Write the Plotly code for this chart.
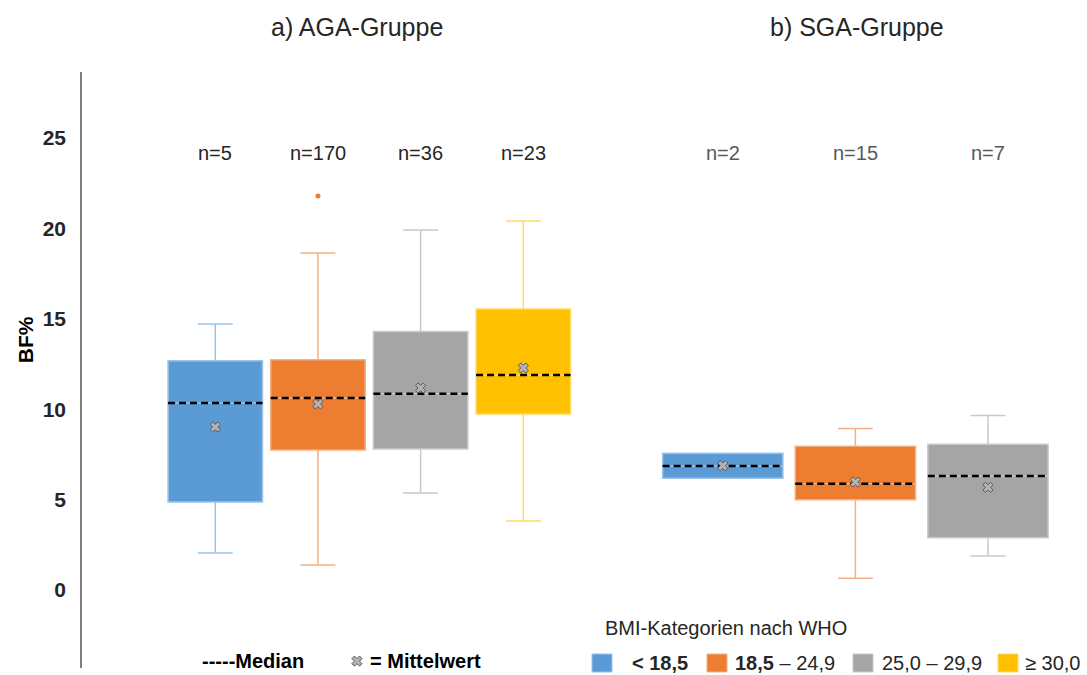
import plotly.graph_objects as go

# ---------------- data ----------------
categories = ["< 18,5", "18,5 – 24,9", "25,0 – 29,9", "≥ 30,0"]

aga_n = [5, 170, 36, 23]
aga_q1 = [4.87, 7.74, 7.80, 9.73]
aga_median = [10.34, 10.62, 10.86, 11.89]
aga_q3 = [12.68, 12.74, 14.30, 15.55]
aga_mean = [9.02, 10.29, 11.17, 12.28]
aga_low = [2.05, 1.38, 5.37, 3.82]
aga_high = [14.71, 18.64, 19.91, 20.41]
aga_outlier_cat = [1]
aga_outlier_val = [21.79]

sga_n = [2, 15, 7]
sga_q1 = [6.18, 5.00, 2.89]
sga_median = [6.86, 5.88, 6.31]
sga_q3 = [7.56, 7.95, 8.06]
sga_mean = [6.88, 5.97, 5.68]
sga_low = [6.18, 0.65, 1.88]
sga_high = [7.56, 8.94, 9.66]

fill_colors = ["#5B9BD5", "#ED7D31", "#A5A5A5", "#FFC000"]
line_colors = ["#9DC3E6", "#F4B183", "#C9C9C9", "#FFD966"]

FONT = "Liberation Sans, Arial, sans-serif"
DARK = "#262626"

fig = go.Figure()

def add_group(xa, q1, med, q3, lo, hi, mean, width, ww):
    for i in range(len(q1)):
        fig.add_trace(go.Box(
            x=[i], q1=[q1[i]], median=[med[i]], q3=[q3[i]],
            lowerfence=[lo[i]], upperfence=[hi[i]],
            width=width, whiskerwidth=ww,
            fillcolor=fill_colors[i],
            line=dict(color=line_colors[i], width=1.5),
            boxpoints=False, orientation="v",
            xaxis=xa, yaxis="y", showlegend=False, hoverinfo="skip",
        ))
    # dashed median lines
    mx, my = [], []
    for i in range(len(med)):
        mx += [i - width / 2, i + width / 2, None]
        my += [med[i], med[i], None]
    fig.add_trace(go.Scatter(
        x=mx, y=my, mode="lines", xaxis=xa, yaxis="y",
        line=dict(color="#000000", width=2.5, dash="7px,4px"),
        showlegend=False, hoverinfo="skip",
    ))
    # mean markers
    fig.add_trace(go.Scatter(
        x=list(range(len(mean))), y=mean, mode="markers", xaxis=xa, yaxis="y",
        marker=dict(symbol="x", size=9, color="#B4B4B4",
                    line=dict(color="#595959", width=1)),
        showlegend=False, hoverinfo="skip",
    ))

add_group("x", aga_q1, aga_median, aga_q3, aga_low, aga_high, aga_mean, 0.92, 0.37)
add_group("x2", sga_q1, sga_median, sga_q3, sga_low, sga_high, sga_mean, 0.907, 0.29)

# outlier
fig.add_trace(go.Scatter(
    x=aga_outlier_cat, y=aga_outlier_val, mode="markers", xaxis="x", yaxis="y",
    marker=dict(size=5, color=fill_colors[1]), showlegend=False, hoverinfo="skip",
))

# legend glyph for mean ("= Mittelwert")
fig.add_trace(go.Scatter(
    x=[1.38], y=[-3.93], mode="markers", xaxis="x", yaxis="y", cliponaxis=False,
    marker=dict(symbol="x", size=9, color="#B4B4B4",
                line=dict(color="#595959", width=1)),
    showlegend=False, hoverinfo="skip",
))

annotations = []
# n labels
for i, n in enumerate(aga_n):
    annotations.append(dict(x=i, y=24.17, xref="x", yref="y", text=f"n={n}",
                            xanchor="center", showarrow=False,
                            font=dict(size=20, color=DARK, family=FONT)))
for i, n in enumerate(sga_n):
    annotations.append(dict(x=i, y=24.17, xref="x2", yref="y", text=f"n={n}",
                            xanchor="center", showarrow=False,
                            font=dict(size=20, color="#595959", family=FONT)))

# panel titles
annotations.append(dict(x=0.275, y=1.0755, xref="paper", yref="paper", text="a) AGA-Gruppe",
                        xanchor="center", yanchor="middle", showarrow=False,
                        font=dict(size=25, color=DARK, family=FONT)))
annotations.append(dict(x=0.775, y=1.0755, xref="paper", yref="paper", text="b) SGA-Gruppe",
                        xanchor="center", yanchor="middle", showarrow=False,
                        font=dict(size=25, color=DARK, family=FONT)))
# y title
annotations.append(dict(x=-0.057, y=0.55, xref="paper", yref="paper", text="<b>BF%</b>",
                        xanchor="center", yanchor="middle",
                        textangle=-90, showarrow=False,
                        font=dict(size=21, color="#000000", family=FONT)))

# bottom-left legend
annotations.append(dict(x=0.118, y=0.0117, xref="paper", yref="paper", xanchor="left",
                        yanchor="middle", text="<b>-----Median</b>", showarrow=False,
                        font=dict(size=20, color="#000000", family=FONT)))
annotations.append(dict(x=0.286, y=0.0117, xref="paper", yref="paper", xanchor="left",
                        yanchor="middle", text="<b>= Mittelwert</b>", showarrow=False,
                        font=dict(size=20, color="#000000", family=FONT)))

# BMI legend
annotations.append(dict(x=0.521, y=0.0671, xref="paper", yref="paper", xanchor="left",
                        yanchor="middle", text="BMI-Kategorien nach WHO", showarrow=False,
                        font=dict(size=20, color=DARK, family=FONT)))
legend_texts = ["<b>&lt; 18,5</b>", "<b>18,5</b> – 24,9", "25,0 – 29,9", "≥ 30,0"]
sq_left = [592, 707, 853, 998]
txt_left = [630, 733, 880, 1023]
shapes = []
for i in range(4):
    shapes.append(dict(type="rect", xref="paper", yref="paper",
                       x0=(sq_left[i] - 82) / 1000, x1=(sq_left[i] + 20 - 82) / 1000,
                       y0=(668 - 672) / 596, y1=(668 - 654) / 596,
                       fillcolor=fill_colors[i], line=dict(color=line_colors[i], width=1)))
    annotations.append(dict(x=(txt_left[i] - 82) / 1000, y=0.0084, xref="paper", yref="paper",
                            xanchor="left", yanchor="middle", text=legend_texts[i],
                            showarrow=False, font=dict(size=20, color=DARK, family=FONT)))

fig.update_layout(
    width=1087, height=675,
    margin=dict(l=82, r=5, t=72, b=7),
    paper_bgcolor="white", plot_bgcolor="white",
    font=dict(family=FONT, color=DARK),
    showlegend=False,
    xaxis=dict(domain=[0, 0.518], range=[-1.298, 3.747], visible=False, anchor="y"),
    xaxis2=dict(domain=[0.518, 1.0], range=[-0.926, 2.709], visible=False, anchor="y"),
    yaxis=dict(range=[-4.31, 28.65], tickvals=[0, 5, 10, 15, 20, 25],
               showgrid=False, zeroline=False, showline=True, linecolor="#7F7F7F",
               linewidth=1.5, ticks="", ticklabelstandoff=10,
               tickfont=dict(size=21, color=DARK, family=FONT, weight="bold"),
               anchor="x"),
    annotations=annotations,
    shapes=shapes,
)

fig.write_html("out.html")
